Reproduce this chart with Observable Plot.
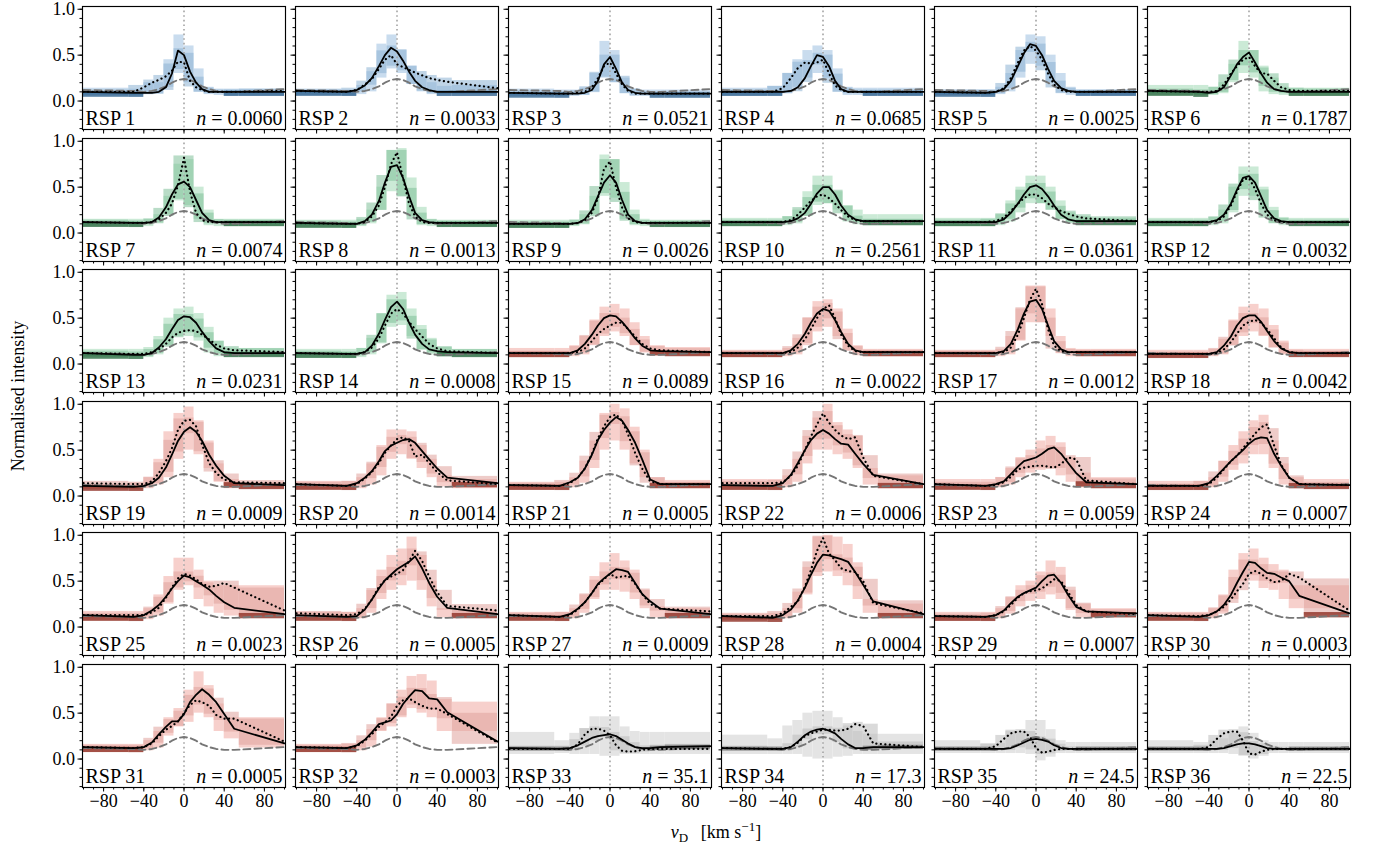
<!DOCTYPE html>
<html><head><meta charset="utf-8">
<script src="https://cdn.jsdelivr.net/npm/d3@7"></script>
<script src="https://cdn.jsdelivr.net/npm/@observablehq/plot@0.6"></script>
<style>
body{margin:0;background:#fff;}
#fig{position:relative;width:1375px;height:851px;overflow:hidden;font-family:"Liberation Serif","DejaVu Serif",serif;background:#fff;}
#fig svg{position:absolute;overflow:visible;}
#fig svg text{font-family:"Liberation Serif","DejaVu Serif",serif !important;}
</style></head><body><div id="fig"></div>
<script>
// ---------------- data ----------------
const velocityGrid = [-100,-50,-40,-32,-25,-18,-12,-6,0,6,12,18,25,32,40,50,100];
const binEdges = [-100,-55,-40,-30,-20,-10,0,10,20,30,40,55,100];
const panelLabels = d3.range(1,37).map(k => "RSP " + k);
const nValues = ["0.0060","0.0033","0.0521","0.0685","0.0025","0.1787","0.0074","0.0013","0.0026","0.2561","0.0361","0.0032","0.0231","0.0008","0.0089","0.0022","0.0012","0.0042","0.0009","0.0014","0.0005","0.0006","0.0059","0.0007","0.0023","0.0005","0.0009","0.0004","0.0007","0.0003","0.0005","0.0003","35.1","17.3","24.5","22.5"];
const panelGroup = [0,0,0,0,0, 1,1,1,1,1,1,1,1,1, 2,2,2,2,2,2,2,2,2,2,2,2,2,2,2,2,2,2, 3,3,3,3];
const dashedProfile = [0.12,0.11,0.1,0.11,0.13,0.16,0.2,0.23,0.24,0.23,0.2,0.16,0.13,0.11,0.1,0.1,0.13];
const solidProfiles = [
[0.1,0.09,0.09,0.09,0.1,0.15,0.3,0.55,0.5,0.32,0.2,0.13,0.1,0.1,0.1,0.1,0.1],
[0.11,0.1,0.12,0.17,0.25,0.38,0.5,0.58,0.54,0.44,0.32,0.22,0.15,0.12,0.1,0.1,0.1],
[0.09,0.08,0.08,0.08,0.09,0.12,0.22,0.4,0.48,0.35,0.2,0.12,0.09,0.08,0.08,0.08,0.08],
[0.1,0.1,0.1,0.11,0.15,0.25,0.38,0.5,0.48,0.38,0.22,0.13,0.1,0.1,0.1,0.1,0.1],
[0.1,0.09,0.1,0.13,0.22,0.38,0.52,0.62,0.6,0.5,0.35,0.22,0.14,0.11,0.1,0.1,0.1],
[0.11,0.1,0.09,0.1,0.15,0.28,0.4,0.48,0.53,0.42,0.3,0.2,0.13,0.11,0.1,0.1,0.1],
[0.12,0.11,0.11,0.12,0.17,0.28,0.42,0.53,0.56,0.5,0.36,0.22,0.14,0.12,0.12,0.12,0.12],
[0.11,0.1,0.1,0.13,0.2,0.35,0.55,0.72,0.74,0.6,0.4,0.22,0.14,0.12,0.11,0.11,0.11],
[0.1,0.1,0.1,0.11,0.15,0.25,0.4,0.55,0.63,0.55,0.36,0.2,0.13,0.11,0.11,0.11,0.11],
[0.12,0.12,0.12,0.13,0.16,0.22,0.32,0.43,0.5,0.5,0.42,0.3,0.2,0.15,0.13,0.13,0.13],
[0.12,0.12,0.12,0.15,0.22,0.32,0.42,0.5,0.52,0.48,0.4,0.3,0.2,0.15,0.13,0.13,0.13],
[0.12,0.12,0.12,0.14,0.2,0.32,0.47,0.6,0.62,0.55,0.4,0.25,0.16,0.13,0.12,0.12,0.12],
[0.12,0.1,0.1,0.12,0.18,0.27,0.38,0.48,0.52,0.51,0.45,0.35,0.25,0.17,0.13,0.12,0.12],
[0.12,0.11,0.11,0.13,0.2,0.33,0.48,0.62,0.68,0.6,0.45,0.32,0.22,0.16,0.14,0.13,0.12],
[0.12,0.12,0.12,0.15,0.22,0.32,0.42,0.5,0.53,0.52,0.46,0.38,0.28,0.2,0.15,0.14,0.13],
[0.12,0.12,0.12,0.15,0.22,0.33,0.45,0.55,0.6,0.58,0.48,0.35,0.22,0.15,0.13,0.13,0.13],
[0.12,0.12,0.12,0.14,0.22,0.38,0.55,0.68,0.7,0.6,0.42,0.25,0.16,0.13,0.13,0.13,0.13],
[0.11,0.11,0.11,0.13,0.2,0.3,0.42,0.5,0.53,0.53,0.46,0.36,0.25,0.17,0.13,0.12,0.12],
[0.11,0.1,0.11,0.14,0.2,0.31,0.45,0.6,0.7,0.75,0.7,0.6,0.45,0.33,0.22,0.14,0.12],
[0.13,0.11,0.14,0.2,0.27,0.38,0.49,0.55,0.58,0.61,0.62,0.58,0.49,0.4,0.3,0.2,0.14],
[0.12,0.11,0.15,0.2,0.3,0.45,0.61,0.72,0.8,0.86,0.82,0.72,0.58,0.4,0.18,0.13,0.13],
[0.12,0.11,0.14,0.23,0.36,0.5,0.61,0.68,0.72,0.68,0.62,0.57,0.56,0.46,0.35,0.23,0.13],
[0.13,0.11,0.13,0.16,0.24,0.32,0.38,0.4,0.42,0.46,0.51,0.53,0.46,0.36,0.25,0.15,0.13],
[0.11,0.11,0.14,0.22,0.3,0.38,0.44,0.5,0.57,0.62,0.64,0.63,0.46,0.33,0.2,0.13,0.12],
[0.13,0.11,0.13,0.18,0.24,0.33,0.42,0.5,0.56,0.54,0.5,0.46,0.41,0.34,0.27,0.21,0.14],
[0.13,0.11,0.12,0.19,0.3,0.42,0.51,0.57,0.63,0.67,0.71,0.77,0.64,0.48,0.33,0.21,0.14],
[0.13,0.11,0.14,0.2,0.27,0.37,0.47,0.53,0.58,0.63,0.62,0.6,0.48,0.36,0.28,0.2,0.14],
[0.12,0.1,0.13,0.19,0.29,0.43,0.57,0.7,0.79,0.78,0.76,0.74,0.71,0.6,0.46,0.28,0.14],
[0.12,0.11,0.13,0.18,0.26,0.33,0.37,0.4,0.43,0.5,0.56,0.57,0.48,0.35,0.22,0.17,0.15],
[0.13,0.11,0.13,0.17,0.24,0.35,0.48,0.6,0.71,0.7,0.64,0.59,0.58,0.54,0.5,0.34,0.15],
[0.13,0.12,0.13,0.18,0.27,0.35,0.41,0.41,0.49,0.62,0.7,0.76,0.7,0.62,0.49,0.33,0.17],
[0.13,0.12,0.15,0.21,0.29,0.38,0.4,0.42,0.49,0.6,0.68,0.75,0.74,0.66,0.65,0.51,0.19],
[0.12,0.11,0.12,0.15,0.19,0.23,0.25,0.26,0.27,0.25,0.21,0.17,0.13,0.12,0.12,0.13,0.14],
[0.12,0.11,0.11,0.13,0.19,0.26,0.3,0.32,0.33,0.31,0.28,0.22,0.16,0.12,0.12,0.13,0.13],
[0.11,0.11,0.11,0.11,0.12,0.15,0.18,0.21,0.22,0.21,0.19,0.15,0.12,0.11,0.11,0.11,0.11],
[0.11,0.11,0.11,0.11,0.12,0.14,0.16,0.17,0.17,0.16,0.14,0.12,0.11,0.11,0.11,0.11,0.11]
];
const dottedProfiles = [
[0.1,0.1,0.15,0.2,0.23,0.27,0.33,0.43,0.42,0.22,0.15,0.12,0.1,0.1,0.1,0.1,0.11],
[0.11,0.1,0.12,0.18,0.24,0.35,0.45,0.5,0.4,0.37,0.34,0.31,0.28,0.25,0.23,0.21,0.14],
[0.09,0.08,0.08,0.09,0.1,0.15,0.25,0.38,0.42,0.3,0.18,0.11,0.08,0.08,0.08,0.08,0.08],
[0.1,0.1,0.14,0.25,0.36,0.42,0.41,0.42,0.45,0.3,0.17,0.12,0.1,0.1,0.1,0.1,0.1],
[0.1,0.09,0.1,0.14,0.25,0.42,0.55,0.6,0.55,0.45,0.3,0.18,0.12,0.1,0.1,0.1,0.1],
[0.11,0.1,0.1,0.11,0.18,0.3,0.38,0.45,0.48,0.38,0.3,0.3,0.22,0.15,0.12,0.11,0.11],
[0.12,0.11,0.11,0.12,0.15,0.22,0.32,0.52,0.82,0.45,0.22,0.14,0.12,0.12,0.12,0.12,0.12],
[0.11,0.1,0.1,0.12,0.18,0.3,0.5,0.75,0.88,0.6,0.32,0.18,0.12,0.11,0.11,0.11,0.11],
[0.1,0.1,0.1,0.11,0.14,0.22,0.38,0.7,0.78,0.5,0.28,0.16,0.12,0.11,0.11,0.11,0.11],
[0.12,0.12,0.12,0.14,0.2,0.28,0.35,0.4,0.42,0.38,0.32,0.25,0.18,0.14,0.13,0.13,0.13],
[0.12,0.12,0.13,0.17,0.24,0.32,0.38,0.42,0.42,0.38,0.32,0.28,0.24,0.21,0.18,0.16,0.13],
[0.12,0.12,0.12,0.13,0.18,0.3,0.45,0.58,0.6,0.48,0.32,0.2,0.14,0.12,0.12,0.12,0.12],
[0.12,0.11,0.11,0.13,0.16,0.22,0.29,0.34,0.36,0.37,0.36,0.32,0.27,0.21,0.17,0.15,0.13],
[0.12,0.11,0.11,0.13,0.18,0.28,0.42,0.55,0.6,0.55,0.46,0.38,0.3,0.22,0.17,0.14,0.12],
[0.12,0.12,0.12,0.13,0.17,0.25,0.33,0.38,0.42,0.45,0.45,0.38,0.3,0.22,0.17,0.15,0.13],
[0.12,0.12,0.12,0.13,0.18,0.27,0.38,0.5,0.6,0.64,0.5,0.32,0.2,0.14,0.13,0.13,0.13],
[0.12,0.12,0.12,0.13,0.18,0.32,0.5,0.7,0.82,0.65,0.38,0.2,0.14,0.13,0.13,0.13,0.13],
[0.11,0.11,0.11,0.12,0.16,0.24,0.33,0.42,0.46,0.48,0.45,0.38,0.28,0.18,0.13,0.12,0.12],
[0.14,0.13,0.13,0.16,0.25,0.38,0.52,0.72,0.82,0.83,0.76,0.56,0.36,0.25,0.18,0.15,0.14],
[0.13,0.11,0.13,0.19,0.26,0.36,0.47,0.55,0.62,0.64,0.6,0.43,0.45,0.36,0.26,0.17,0.13],
[0.12,0.11,0.14,0.2,0.3,0.46,0.63,0.76,0.86,0.89,0.82,0.67,0.47,0.3,0.16,0.13,0.13],
[0.14,0.14,0.15,0.22,0.33,0.5,0.65,0.78,0.9,0.8,0.72,0.66,0.62,0.64,0.42,0.22,0.13],
[0.13,0.11,0.12,0.15,0.21,0.29,0.31,0.32,0.33,0.33,0.32,0.31,0.35,0.42,0.4,0.17,0.13],
[0.11,0.11,0.13,0.2,0.29,0.38,0.44,0.52,0.6,0.68,0.75,0.78,0.55,0.34,0.2,0.13,0.12],
[0.13,0.13,0.13,0.16,0.21,0.32,0.43,0.53,0.58,0.56,0.52,0.47,0.44,0.45,0.48,0.43,0.18],
[0.15,0.13,0.14,0.2,0.3,0.44,0.51,0.55,0.58,0.62,0.72,0.83,0.72,0.55,0.38,0.23,0.18],
[0.13,0.11,0.13,0.19,0.27,0.37,0.46,0.52,0.58,0.54,0.55,0.56,0.47,0.36,0.25,0.2,0.17],
[0.12,0.12,0.15,0.22,0.28,0.44,0.62,0.83,0.97,0.8,0.73,0.64,0.61,0.6,0.5,0.26,0.15],
[0.12,0.11,0.13,0.17,0.24,0.32,0.37,0.39,0.4,0.42,0.47,0.52,0.5,0.38,0.24,0.17,0.14],
[0.13,0.12,0.13,0.17,0.22,0.3,0.39,0.47,0.58,0.61,0.58,0.53,0.49,0.5,0.58,0.54,0.18],
[0.13,0.12,0.13,0.17,0.25,0.32,0.36,0.41,0.5,0.59,0.64,0.62,0.58,0.48,0.44,0.44,0.19],
[0.13,0.12,0.14,0.2,0.27,0.35,0.4,0.46,0.58,0.64,0.66,0.62,0.58,0.55,0.55,0.49,0.18],
[0.11,0.11,0.11,0.16,0.27,0.33,0.33,0.31,0.26,0.15,0.09,0.08,0.085,0.1,0.11,0.11,0.11],
[0.12,0.11,0.11,0.13,0.18,0.25,0.28,0.3,0.32,0.32,0.31,0.31,0.33,0.38,0.36,0.17,0.13],
[0.11,0.11,0.14,0.22,0.28,0.3,0.3,0.24,0.12,0.07,0.08,0.1,0.11,0.11,0.11,0.11,0.11],
[0.11,0.11,0.13,0.22,0.28,0.3,0.3,0.2,0.06,0.05,0.08,0.1,0.11,0.11,0.11,0.11,0.11]
];
const shadeUpper = [
[0.14,0.13,0.2,0.2,0.45,0.72,0.6,0.35,0.15,0.13,0.13,0.13],
[0.12,0.12,0.17,0.32,0.62,0.72,0.55,0.38,0.28,0.2,0.16,0.17],
[0.13,0.12,0.12,0.14,0.3,0.65,0.55,0.25,0.13,0.12,0.12,0.12],
[0.14,0.16,0.3,0.45,0.55,0.6,0.55,0.35,0.15,0.14,0.14,0.14],
[0.12,0.12,0.15,0.3,0.55,0.72,0.7,0.5,0.3,0.15,0.12,0.12],
[0.17,0.17,0.15,0.2,0.4,0.65,0.55,0.38,0.25,0.15,0.14,0.14],
[0.15,0.15,0.15,0.2,0.4,0.75,0.8,0.5,0.25,0.15,0.15,0.15],
[0.14,0.14,0.15,0.25,0.5,0.9,0.92,0.6,0.28,0.15,0.14,0.14],
[0.14,0.14,0.14,0.2,0.4,0.85,0.8,0.55,0.25,0.15,0.14,0.14],
[0.16,0.16,0.18,0.25,0.45,0.62,0.62,0.45,0.3,0.25,0.2,0.2],
[0.16,0.16,0.2,0.35,0.5,0.62,0.62,0.5,0.35,0.22,0.18,0.16],
[0.16,0.16,0.17,0.25,0.5,0.72,0.72,0.5,0.28,0.17,0.16,0.16],
[0.16,0.16,0.18,0.3,0.5,0.6,0.62,0.55,0.4,0.25,0.17,0.17],
[0.16,0.16,0.17,0.28,0.55,0.75,0.78,0.6,0.42,0.28,0.18,0.16],
[0.17,0.17,0.2,0.3,0.48,0.62,0.65,0.6,0.45,0.3,0.2,0.18],
[0.15,0.15,0.17,0.28,0.5,0.68,0.7,0.6,0.38,0.2,0.16,0.16],
[0.15,0.15,0.16,0.3,0.6,0.85,0.85,0.6,0.3,0.17,0.16,0.16],
[0.15,0.15,0.16,0.27,0.48,0.62,0.65,0.6,0.42,0.25,0.16,0.16],
[0.13,0.14,0.2,0.4,0.7,0.9,0.97,0.82,0.6,0.35,0.18,0.15],
[0.16,0.16,0.2,0.35,0.55,0.72,0.72,0.7,0.55,0.4,0.22,0.18],
[0.15,0.15,0.2,0.38,0.6,0.9,1.0,0.95,0.75,0.5,0.2,0.17],
[0.18,0.18,0.22,0.4,0.65,0.85,1.0,0.8,0.72,0.65,0.3,0.22],
[0.18,0.18,0.2,0.3,0.42,0.5,0.6,0.65,0.58,0.42,0.25,0.2],
[0.16,0.16,0.2,0.38,0.55,0.7,0.82,0.88,0.6,0.35,0.2,0.18],
[0.17,0.17,0.2,0.35,0.55,0.75,0.75,0.62,0.5,0.45,0.45,0.45],
[0.16,0.16,0.2,0.4,0.62,0.78,0.85,0.98,0.78,0.5,0.2,0.18],
[0.16,0.16,0.2,0.35,0.55,0.7,0.8,0.72,0.62,0.4,0.22,0.2],
[0.15,0.15,0.2,0.38,0.65,0.98,1.0,0.98,0.9,0.7,0.3,0.25],
[0.16,0.16,0.2,0.32,0.45,0.5,0.6,0.72,0.65,0.4,0.25,0.2],
[0.16,0.16,0.2,0.35,0.62,0.8,0.85,0.75,0.68,0.62,0.45,0.45],
[0.16,0.16,0.2,0.3,0.45,0.55,0.75,0.95,0.8,0.6,0.45,0.45],
[0.16,0.16,0.2,0.32,0.45,0.6,0.75,0.9,0.92,0.85,0.65,0.62],
[0.29,0.2,0.28,0.33,0.46,0.46,0.46,0.35,0.3,0.29,0.29,0.29],
[0.26,0.22,0.36,0.42,0.5,0.52,0.52,0.45,0.36,0.3,0.27,0.27],
[0.2,0.17,0.17,0.3,0.3,0.42,0.42,0.32,0.2,0.18,0.18,0.18],
[0.2,0.18,0.2,0.22,0.28,0.35,0.28,0.2,0.18,0.18,0.18,0.18]
];
const shadeLower = [
[0.06,0.06,0.07,0.08,0.15,0.3,0.2,0.1,0.07,0.06,0.06,0.06],
[0.06,0.06,0.07,0.1,0.25,0.35,0.3,0.18,0.1,0.07,0.07,0.07],
[0.05,0.05,0.05,0.06,0.1,0.25,0.2,0.08,0.05,0.05,0.05,0.05],
[0.06,0.06,0.08,0.15,0.25,0.3,0.25,0.1,0.06,0.06,0.06,0.06],
[0.06,0.06,0.07,0.1,0.25,0.4,0.38,0.2,0.08,0.06,0.06,0.06],
[0.06,0.06,0.06,0.08,0.2,0.3,0.25,0.1,0.07,0.06,0.06,0.06],
[0.07,0.07,0.07,0.1,0.2,0.35,0.3,0.15,0.08,0.07,0.07,0.07],
[0.06,0.06,0.07,0.1,0.25,0.45,0.4,0.18,0.08,0.07,0.07,0.07],
[0.06,0.06,0.07,0.09,0.2,0.4,0.38,0.15,0.08,0.07,0.07,0.07],
[0.07,0.07,0.08,0.1,0.18,0.3,0.32,0.25,0.12,0.09,0.08,0.08],
[0.07,0.07,0.08,0.12,0.22,0.32,0.32,0.25,0.15,0.1,0.09,0.09],
[0.07,0.07,0.08,0.1,0.22,0.4,0.4,0.25,0.1,0.08,0.08,0.08],
[0.07,0.07,0.07,0.1,0.2,0.3,0.3,0.25,0.12,0.08,0.08,0.08],
[0.07,0.07,0.07,0.1,0.22,0.4,0.42,0.3,0.15,0.1,0.08,0.08],
[0.07,0.07,0.08,0.1,0.2,0.3,0.35,0.3,0.2,0.12,0.09,0.09],
[0.07,0.07,0.08,0.1,0.2,0.35,0.4,0.3,0.15,0.09,0.08,0.08],
[0.07,0.07,0.08,0.1,0.25,0.45,0.45,0.3,0.12,0.08,0.08,0.08],
[0.07,0.07,0.08,0.1,0.2,0.3,0.35,0.3,0.18,0.1,0.08,0.08],
[0.07,0.07,0.08,0.12,0.2,0.4,0.5,0.45,0.3,0.15,0.08,0.08],
[0.07,0.07,0.08,0.12,0.22,0.4,0.45,0.4,0.3,0.2,0.1,0.08],
[0.07,0.07,0.09,0.14,0.3,0.5,0.6,0.5,0.35,0.2,0.08,0.08],
[0.07,0.07,0.09,0.15,0.35,0.5,0.5,0.45,0.4,0.3,0.12,0.08],
[0.07,0.07,0.09,0.12,0.2,0.25,0.28,0.3,0.22,0.15,0.09,0.08],
[0.07,0.07,0.09,0.15,0.28,0.35,0.45,0.45,0.3,0.12,0.08,0.08],
[0.07,0.07,0.08,0.12,0.25,0.4,0.45,0.3,0.22,0.15,0.12,0.12],
[0.07,0.07,0.09,0.15,0.3,0.4,0.45,0.5,0.4,0.22,0.1,0.1],
[0.07,0.07,0.09,0.15,0.3,0.4,0.4,0.38,0.3,0.2,0.1,0.1],
[0.07,0.07,0.09,0.15,0.35,0.55,0.6,0.55,0.45,0.3,0.15,0.12],
[0.07,0.07,0.09,0.14,0.22,0.28,0.3,0.35,0.3,0.18,0.1,0.1],
[0.07,0.07,0.09,0.14,0.3,0.5,0.5,0.42,0.4,0.3,0.2,0.2],
[0.07,0.07,0.09,0.12,0.25,0.35,0.4,0.5,0.45,0.3,0.22,0.12],
[0.07,0.07,0.09,0.13,0.3,0.35,0.45,0.55,0.5,0.45,0.3,0.3],
[0.05,0.06,0.05,0.05,0.05,0.03,0.03,0.05,0.05,0.05,0.05,0.05],
[0.05,0.05,0.05,0.05,0.02,0.0,0.0,0.02,0.03,0.05,0.05,0.05],
[0.06,0.06,0.06,0.06,0.06,0.05,-0.02,0.02,0.06,0.06,0.06,0.06],
[0.06,0.06,0.06,0.06,0.05,0.03,0.0,0.03,0.06,0.06,0.06,0.06]
];
const xMajorTicks = [-80,-40,0,40,80];
const yMajorTicks = [0,0.5,1];
const groupColors = [
  {light:"#c9dcee", mid:"#8db2d4", dark:"#2f6390"},
  {light:"#cbead6", mid:"#80c099", dark:"#2d6d44"},
  {light:"#f7d0cc", mid:"#e0a29c", dark:"#8e2f24"},
  {light:"#e4e4e4", mid:"#bcbcbc", dark:"#808080"}
];

// ---------------- drawing ----------------
const fig = document.getElementById("fig");
const FW = 203, FH = 123, ML = 50, MR = 10, MT = 8, MB = 40;
const FONT = '"Liberation Serif","DejaVu Serif",serif';
const interp = (arr, v) => {
  for (let k = 0; k < velocityGrid.length - 1; k++) {
    const a = velocityGrid[k], b = velocityGrid[k+1];
    if (v >= a && v <= b) return arr[k] + (arr[k+1]-arr[k])*(v-a)/(b-a);
  }
  return arr[arr.length-1];
};
const minus = d => d < 0 ? "\u2212" + (-d) : String(d);

for (let i = 0; i < 36; i++) {
  const c = i % 6, r = Math.floor(i / 6);
  const left = 82 + 213*c, top = 6 + 131.6*r;
  const col = groupColors[panelGroup[i]];
  const S = solidProfiles[i], D = dottedProfiles[i];
  const asLine = arr => velocityGrid.map((v,k) => ({v, y: arr[k]}));
  const bins = binEdges.slice(0,-1).map((x1,k) => {
    const x2 = binEdges[k+1];
    const pts = [x1, x2, ...velocityGrid.filter(v => v > x1 && v < x2)];
    const vals = pts.flatMap(v => [interp(S,v), interp(D,v)]);
    const sv = pts.map(v => interp(S,v));
    return {x1, x2, lo: shadeLower[i][k], hi: shadeUpper[i][k],
      mlo: d3.min(vals) - 0.02, mhi: d3.max(vals) + 0.02,
      smin: d3.min(sv), wing: Math.abs((x1+x2)/2) > 45};
  });
  const isGray = panelGroup[i] === 3;
  const wings = bins.filter(b => b.wing && b.smin < 0.16);
  const svg = Plot.plot({
    width: FW + ML + MR, height: FH + MT + MB,
    marginLeft: ML, marginRight: MR, marginTop: MT, marginBottom: MB,
    x: {domain: [-101, 101], label: null},
    y: {domain: [-0.31, 1.03], label: null},
    style: {background: "transparent", overflow: "visible", fontFamily: FONT, fontSize: "17px", color: "#000"},
    marks: [
      Plot.rect(bins, {x1: "x1", x2: "x2", y1: "lo", y2: "hi", fill: col.light, clip: true}),
      Plot.rect(bins, {x1: "x1", x2: "x2", y1: "mlo", y2: "mhi", fill: col.mid, fillOpacity: 0.55, clip: true}),
      Plot.rect(wings, {x1: "x1", x2: "x2", y1: d => isGray ? d.smin - 0.025 : d.smin - 0.05, y2: d => isGray ? d.smin + 0.02 : d.smin + 0.008, fill: col.dark, fillOpacity: 0.8, clip: true}),
      Plot.ruleX([0], {stroke: "#a3a3a3", strokeWidth: 1.6, strokeDasharray: "1.6,3"}),
      Plot.line(asLine(dashedProfile), {x: "v", y: "y", stroke: "#767676", strokeWidth: 1.9, strokeDasharray: "7,4", clip: true}),
      Plot.line(asLine(D), {x: "v", y: "y", stroke: "#000", strokeWidth: 2.2, strokeDasharray: "0.1,4.4", strokeLinecap: "round", clip: true}),
      Plot.line(asLine(S), {x: "v", y: "y", stroke: "#000", strokeWidth: 1.8, clip: true}),
      Plot.frame({stroke: "#000", strokeWidth: 1.15}),
      Plot.axisX({ticks: d3.range(-100, 101, 10), tickSize: 2.5, tickFormat: () => "", label: null}),
      Plot.axisX({ticks: xMajorTicks, tickSize: 4.5, tickPadding: 2, tickFormat: r === 5 ? minus : () => "", label: null, fontSize: 18, fontFamily: FONT}),
      Plot.axisY({ticks: d3.range(-3, 11).map(k => k/10), tickSize: 2.5, tickFormat: () => "", label: null}),
      Plot.axisY({ticks: yMajorTicks, tickSize: 4.5, tickPadding: 3, tickFormat: c === 0 ? d3.format(".1f") : () => "", label: null, fontSize: 18, fontFamily: FONT}),
      Plot.text([panelLabels[i]], {text: d => d, frameAnchor: "bottom-left", dx: 3, dy: -5, textAnchor: "start", lineAnchor: "bottom", fontSize: 20, fontFamily: FONT}),
      Plot.text([nValues[i]], {text: d => "n = " + d, frameAnchor: "bottom-right", dx: -3, dy: -5, textAnchor: "end", lineAnchor: "bottom", fontSize: 20, fontFamily: FONT})
    ]
  });
  svg.style.left = (left - ML) + "px";
  svg.style.top = (top - MT) + "px";
  d3.select(svg).selectAll("text").each(function() {
    const t = this.textContent;
    if (t.startsWith("n = ")) {
      this.textContent = "";
      d3.select(this).append("tspan").attr("font-style", "italic").text("n");
      d3.select(this).append("tspan").text(" = " + t.slice(4));
    }
  });
  fig.appendChild(svg);
}

// overall axis labels
const lab = d3.select(fig).append("svg").attr("width", 1375).attr("height", 851)
  .style("left", "0px").style("top", "0px").style("pointer-events", "none")
  .style("font-family", FONT).style("font-size", "18px");
lab.append("text").attr("transform", "translate(24,396) rotate(-90)").attr("text-anchor", "middle").text("Normalised intensity");
const xl = lab.append("text").attr("x", 716).attr("y", 838).attr("text-anchor", "middle");
xl.append("tspan").attr("font-style", "italic").text("v");
xl.append("tspan").attr("font-size", "13px").attr("dy", 4).text("D");
xl.append("tspan").attr("dy", -4).text("\u2002\u2009[km s");
xl.append("tspan").attr("font-size", "13px").attr("dy", -7).text("\u22121");
xl.append("tspan").attr("dy", 7).text("]");
</script></body></html>
